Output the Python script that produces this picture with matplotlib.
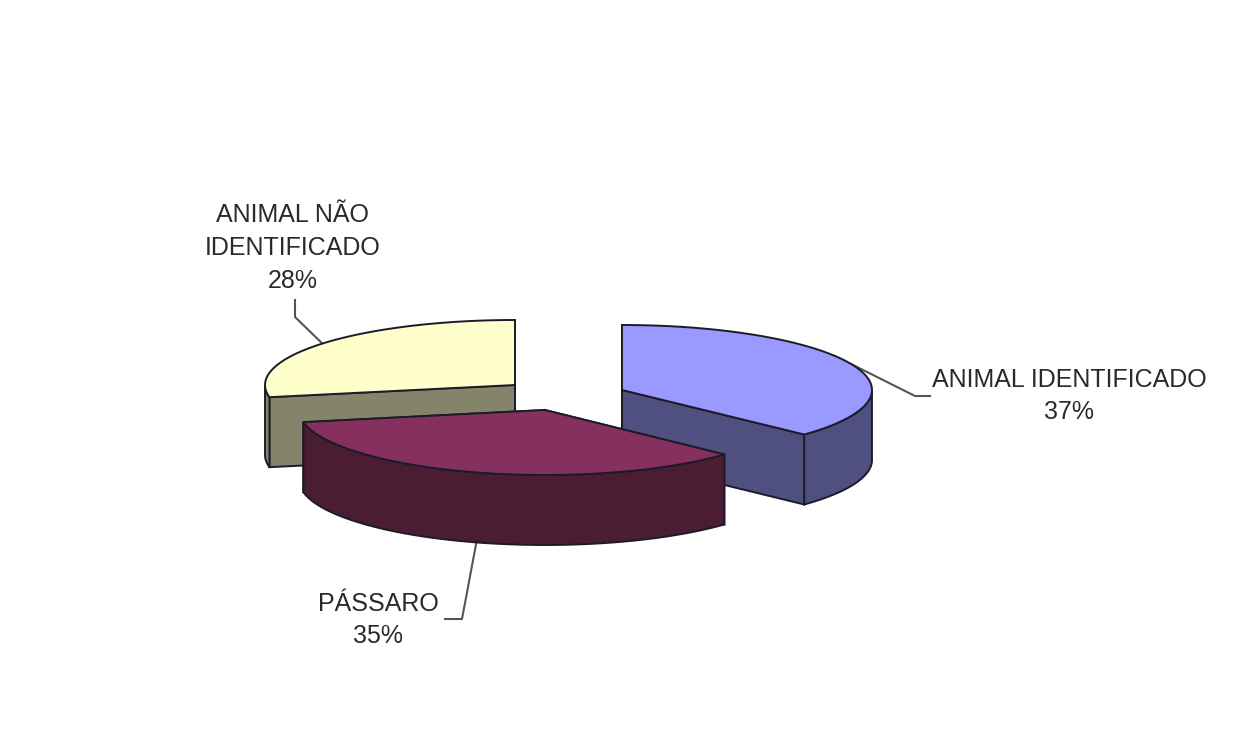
import numpy as np
import matplotlib
matplotlib.use('Agg')
import matplotlib.pyplot as plt
from matplotlib.patches import Polygon

plt.rcParams['font.family'] = ['Liberation Sans', 'DejaVu Sans']

# slice order is clockwise from 12 o'clock
labels = ['ANIMAL IDENTIFICADO', 'PÁSSARO', 'ANIMAL NÃO\nIDENTIFICADO']
values = [37, 35, 28]
top_colors = ['#9999FF', '#863060', '#FFFFCC']
side_colors = ['#4F4F80', '#4A1D33', '#84846B']

# pie geometry in pixels, each slice has its own exploded centre
centers_x = [622, 545, 515]
centers_y = [390, 410, 385]
radius_x = [250, 246, 250]
radius_y = 65
depth = 70
edge = '#1c1c28'

# label anchor, leader elbow and leader end
text_pos = [(1069, 396), (378, 620), (293, 248)]
elbows = [[(915, 396), (930, 396)], [(462, 619), (445, 619)], [(295, 317), (295, 300)]]


def project(i, angle):
    a = np.radians(angle)
    x = centers_x[i] + radius_x[i] * np.sin(a)
    y = centers_y[i] - radius_y * np.cos(a)
    return x, y


def draw_slice(ax, i, start, end):
    cx, cy = centers_x[i], centers_y[i]
    angles = np.linspace(start, end, 80)
    xs, ys = project(i, angles)

    # radial cut faces
    for a in (start, end):
        x, y = project(i, a)
        face = [(cx, cy), (x, y), (x, y + depth), (cx, cy + depth)]
        ax.add_patch(Polygon(face, fc=side_colors[i], ec=edge, lw=1.4))

    # outer rim, only the front half can be seen
    front = angles[(angles >= 90) & (angles <= 270)]
    if len(front) > 1:
        fx, fy = project(i, front)
        rim = list(zip(fx, fy)) + list(zip(fx[::-1], fy[::-1] + depth))
        ax.add_patch(Polygon(rim, fc=side_colors[i], ec=edge, lw=1.4))

    top = [(cx, cy)] + list(zip(xs, ys))
    ax.add_patch(Polygon(top, fc=top_colors[i], ec=edge, lw=1.4))


fig = plt.figure(figsize=(12.57, 7.29), dpi=100)
ax = fig.add_axes([0, 0, 1, 1])
ax.set_xlim(0, 1257)
ax.set_ylim(729, 0)
ax.axis('off')

cum = np.cumsum([0] + values) * 360 / sum(values)

# back slice first, the front one overlaps it
for i in [2, 0, 1]:
    draw_slice(ax, i, cum[i], cum[i + 1])

for i in range(len(values)):
    mid = (cum[i] + cum[i + 1]) / 2
    x, y = project(i, mid)
    if 90 < mid < 270:
        y = y + depth
    pts = [(x, y)] + elbows[i]
    ax.plot([p[0] for p in pts], [p[1] for p in pts], color='#555555', lw=1.5, zorder=0.5)
    ax.text(text_pos[i][0], text_pos[i][1], '{}\n{}%'.format(labels[i], values[i]),
            ha='center', va='center', fontsize=18, color='#2a2a2a', linespacing=1.47)

fig.savefig('out.png', dpi=100, facecolor='white')
